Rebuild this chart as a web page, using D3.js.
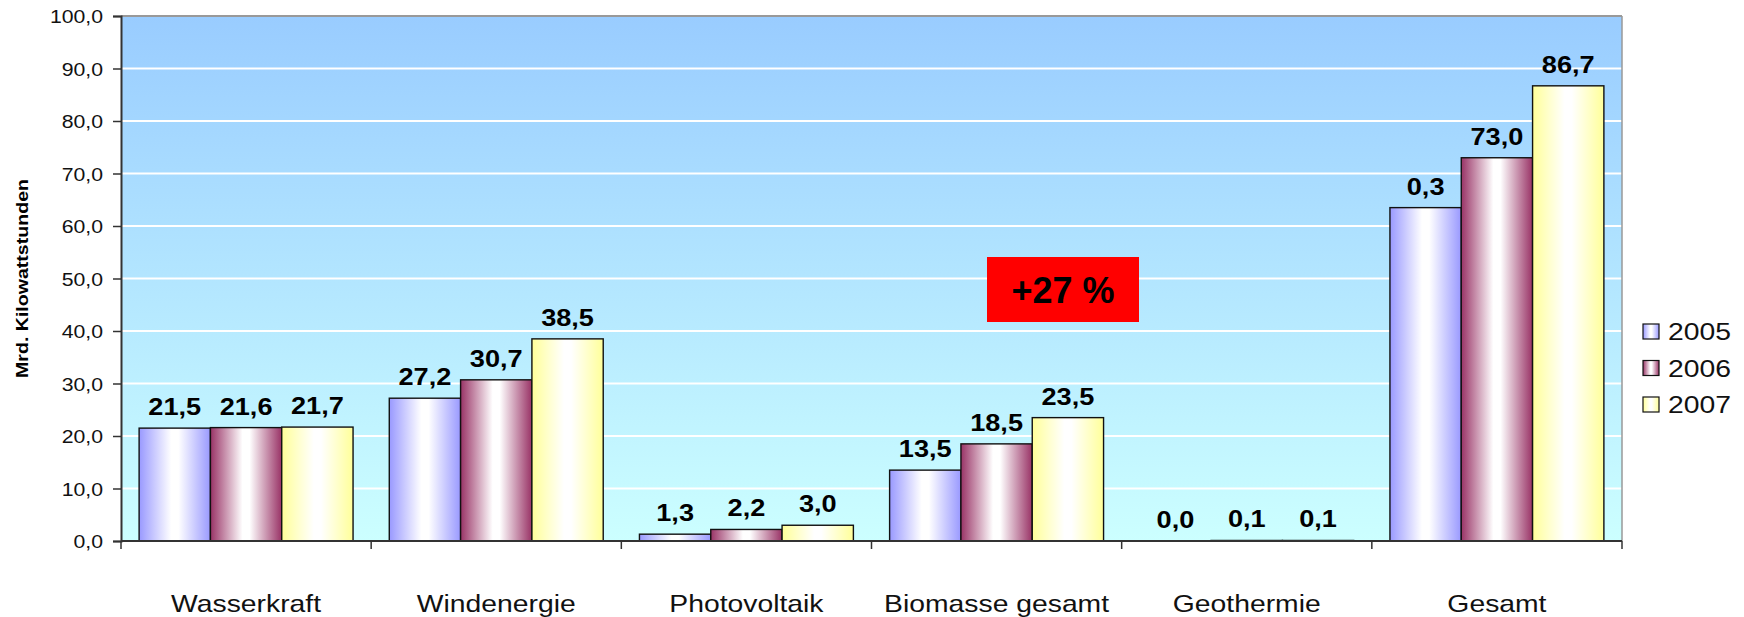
<!DOCTYPE html>
<html>
<head>
<meta charset="utf-8">
<script src="https://cdn.jsdelivr.net/npm/d3@7"></script>
<style>
  html, body { margin: 0; padding: 0; background: #fff; }
  svg { display: block; }
  text { font-family: "Liberation Sans", Arial, sans-serif; }
</style>
</head>
<body>
<svg id="chart" width="1744" height="617"></svg>
<script>
// ---- data ----
const categories = ["Wasserkraft", "Windenergie", "Photovoltaik", "Biomasse gesamt", "Geothermie", "Gesamt"];
const years = ["2005", "2006", "2007"];
const values2005 = [21.5, 27.2, 1.3, 13.5, 0.0, 63.5];
const values2006 = [21.6, 30.7, 2.2, 18.5, 0.1, 73.0];
const values2007 = [21.7, 38.5, 3.0, 23.5, 0.1, 86.7];
const labels2005 = ["21,5", "27,2", "1,3", "13,5", "0,0", "0,3"];
const labels2006 = ["21,6", "30,7", "2,2", "18,5", "0,1", "73,0"];
const labels2007 = ["21,7", "38,5", "3,0", "23,5", "0,1", "86,7"];
const yTicks = [0, 10, 20, 30, 40, 50, 60, 70, 80, 90, 100];
const yTitle = "Mrd. Kilowattstunden";
const annotation = "+27 %";

const seriesValues = [values2005, values2006, values2007];
const seriesLabels = [labels2005, labels2006, labels2007];
const seriesColors = ["#9999FF", "#993366", "#FFFF99"];

// ---- layout ----
const W = 1744, H = 617;
const plot = { left: 121, right: 1622, top: 16, bottom: 541 };
const SX = 1.18; // horizontal text stretch seen in reference

const svg = d3.select("#chart");
const defs = svg.append("defs");

const bg = defs.append("linearGradient").attr("id", "bg").attr("x1", 0).attr("x2", 0).attr("y1", 0).attr("y2", 1);
bg.append("stop").attr("offset", "0%").attr("stop-color", "#99CCFF");
bg.append("stop").attr("offset", "100%").attr("stop-color", "#CCFFFF");

seriesColors.forEach((c, i) => {
  const g = defs.append("linearGradient").attr("id", "bar" + i).attr("x1", 0).attr("x2", 1).attr("y1", 0).attr("y2", 0);
  g.append("stop").attr("offset", "0%").attr("stop-color", c);
  g.append("stop").attr("offset", "45%").attr("stop-color", "#FFFFFF");
  g.append("stop").attr("offset", "55%").attr("stop-color", "#FFFFFF");
  g.append("stop").attr("offset", "100%").attr("stop-color", c);
});

const x0 = d3.scaleBand().domain(categories).range([plot.left, plot.right]).padding(0);
const x1 = d3.scaleBand().domain(years).range([0, x0.bandwidth()]).paddingInner(0).paddingOuter(0.254);
const y = d3.scaleLinear().domain([0, 100]).range([plot.bottom, plot.top]);

// background
svg.append("rect")
  .attr("x", plot.left).attr("y", plot.top)
  .attr("width", plot.right - plot.left).attr("height", plot.bottom - plot.top)
  .attr("fill", "url(#bg)");

// gridlines
svg.append("g").selectAll("line").data(yTicks.filter(t => t > 0 && t < 100)).join("line")
  .attr("x1", plot.left).attr("x2", plot.right)
  .attr("y1", d => y(d)).attr("y2", d => y(d))
  .attr("stroke", "#FFFFFF").attr("stroke-width", 2);

// top & right border
svg.append("line").attr("x1", plot.left).attr("x2", plot.right).attr("y1", plot.top).attr("y2", plot.top)
  .attr("stroke", "#999").attr("stroke-width", 2);
svg.append("line").attr("x1", plot.right).attr("x2", plot.right).attr("y1", plot.top).attr("y2", plot.bottom)
  .attr("stroke", "#999").attr("stroke-width", 1.5);

// bars
const rows = [];
categories.forEach((c, ci) => {
  years.forEach((yr, si) => {
    rows.push({ cat: c, year: yr, si, value: seriesValues[si][ci], label: seriesLabels[si][ci] });
  });
});

const barG = svg.append("g");
barG.selectAll("rect").data(rows.filter(d => d.value > 0)).join("rect")
  .attr("x", d => x0(d.cat) + x1(d.year))
  .attr("y", d => y(d.value))
  .attr("width", x1.bandwidth())
  .attr("height", d => y(0) - y(d.value))
  .attr("fill", d => "url(#bar" + d.si + ")")
  .attr("stroke", "#111").attr("stroke-width", 1.4);

// value labels
svg.append("g").selectAll("text").data(rows).join("text")
  .attr("transform", d => `translate(${x0(d.cat) + x1(d.year) + x1.bandwidth() / 2},${y(d.value) - 13}) scale(${SX},1)`)
  .attr("text-anchor", "middle")
  .attr("font-size", 23).attr("font-weight", "bold").attr("fill", "#000")
  .text(d => d.label);

// y axis
const yAxis = d3.axisLeft(y).tickValues(yTicks).tickSize(8).tickPadding(10)
  .tickFormat(d => d3.format(".1f")(d).replace(".", ","));
const yg = svg.append("g").attr("transform", `translate(${plot.left},0)`).call(yAxis);
yg.select(".domain").attr("stroke", "#333").attr("stroke-width", 2);
yg.selectAll(".tick line").attr("stroke", "#333").attr("stroke-width", 1.5);
yg.selectAll(".tick text")
  .attr("font-size", 18).attr("fill", "#111")
  .attr("font-family", "'Liberation Sans', Arial, sans-serif")
  .each(function() {
    const t = d3.select(this);
    const xx = +t.attr("x");
    t.attr("x", null).attr("dy", null)
      .attr("transform", `translate(${xx},6.5) scale(${SX},1)`);
  });

// x axis
svg.append("line").attr("x1", plot.left).attr("x2", plot.right).attr("y1", plot.bottom).attr("y2", plot.bottom)
  .attr("stroke", "#333").attr("stroke-width", 2);
const boundaries = categories.map(c => x0(c)).concat([plot.right]);
svg.append("g").selectAll("line").data(boundaries).join("line")
  .attr("x1", d => d).attr("x2", d => d)
  .attr("y1", plot.bottom).attr("y2", plot.bottom + 8)
  .attr("stroke", "#333").attr("stroke-width", 1.5);
svg.append("g").selectAll("text").data(categories).join("text")
  .attr("transform", d => `translate(${x0(d) + x0.bandwidth() / 2},612) scale(${SX},1)`)
  .attr("text-anchor", "middle")
  .attr("font-size", 24).attr("fill", "#111")
  .text(d => d);

// y title
svg.append("text")
  .attr("transform", `translate(28,${(plot.top + plot.bottom) / 2}) rotate(-90)`)
  .attr("text-anchor", "middle")
  .attr("font-size", 17).attr("font-weight", "bold").attr("fill", "#000")
  .attr("textLength", 199).attr("lengthAdjust", "spacingAndGlyphs")
  .text(yTitle);

// annotation box
svg.append("rect").attr("x", 987).attr("y", 257).attr("width", 152).attr("height", 65).attr("fill", "#FF0000");
svg.append("text").attr("x", 1063).attr("y", 303).attr("text-anchor", "middle")
  .attr("font-size", 36).attr("font-weight", "bold").attr("fill", "#000")
  .text(annotation);

// legend
const lg = svg.append("g").attr("transform", "translate(1643,324)");
const li = lg.selectAll("g").data(years).join("g").attr("transform", (d, i) => `translate(0,${i * 36.5})`);
li.append("rect").attr("width", 16).attr("height", 15)
  .attr("fill", (d, i) => "url(#bar" + i + ")").attr("stroke", "#111").attr("stroke-width", 1.2);
li.append("text").attr("transform", `translate(25,16) scale(${SX},1)`)
  .attr("font-size", 24).attr("fill", "#111").text(d => d);
</script>
</body>
</html>
